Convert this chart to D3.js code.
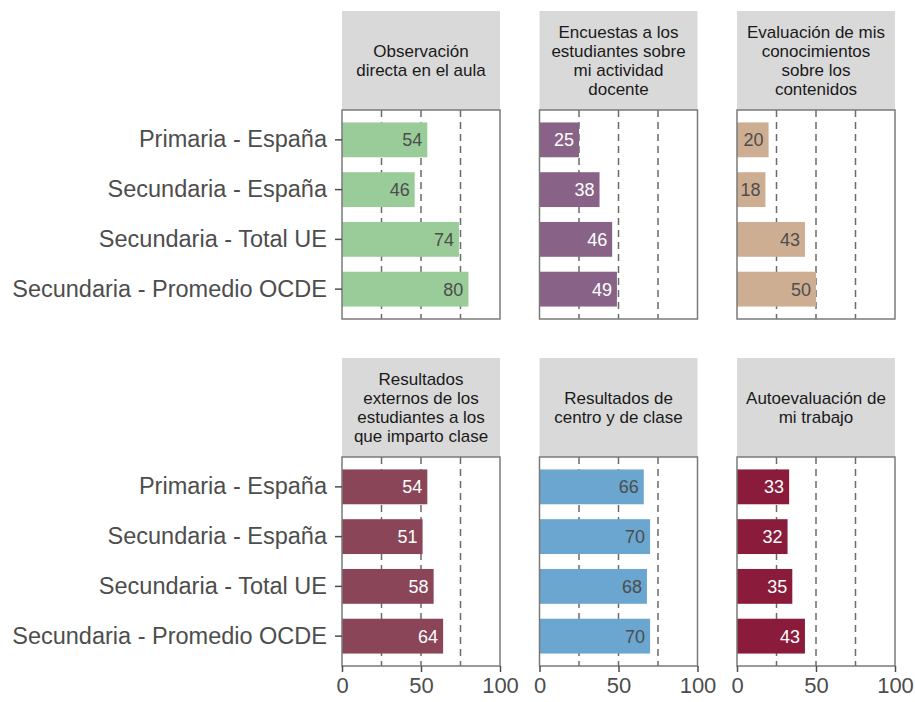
<!DOCTYPE html>
<html>
<head>
<meta charset="utf-8">
<script src="https://cdn.jsdelivr.net/npm/d3@7"></script>
<style>
  body { margin: 0; background: #fff; }
  svg text { font-family: "Liberation Sans", Arial, sans-serif; }
</style>
</head>
<body>
<div id="chart"></div>
<script>
const categories = ["Primaria - España", "Secundaria - España", "Secundaria - Total UE", "Secundaria - Promedio OCDE"];

const panelTitles = [
    ["Observación", "directa en el aula"],
    ["Encuestas a los", "estudiantes sobre", "mi actividad", "docente"],
    ["Evaluación de mis", "conocimientos", "sobre los", "contenidos"],
    ["Resultados", "externos de los", "estudiantes a los", "que imparto clase"],
    ["Resultados de", "centro y de clase"],
    ["Autoevaluación de", "mi trabajo"]
];

const observacion = [54, 46, 74, 80];
const encuestas = [25, 38, 46, 49];
const evaluacion = [20, 18, 43, 50];
const resultadosExternos = [54, 51, 58, 64];
const resultadosCentro = [66, 70, 68, 70];
const autoevaluacion = [33, 32, 35, 43];

const panelValues = [observacion, encuestas, evaluacion, resultadosExternos, resultadosCentro, autoevaluacion];
const panelColors = ["#99cc99", "#896387", "#cdae93", "#8a4559", "#6aa6cf", "#8a1b3a"];
const labelColors = ["#4d4d4d", "#ffffff", "#4d4d4d", "#ffffff", "#4d4d4d", "#ffffff"];

const xTicks = [0, 50, 100];
const gridLines = [25, 50, 75];

const width = 915;
const height = 702;

// layout of the facet grid
const colX = [342, 539.5, 737];
const panelW = 158;
const stripTop = [11, 358];
const stripH = 99;
const panelH = 209;

const svg = d3.select("#chart")
    .append("svg")
    .attr("width", width)
    .attr("height", height);

const x = d3.scaleLinear().domain([0, 100]).range([0, panelW]);
const y = d3.scaleBand()
    .domain(categories)
    .range([0, panelH])
    .paddingInner(0.3)
    .paddingOuter(0.25);

panelValues.forEach((values, p) => {
    const col = p % 3;
    const row = Math.floor(p / 3);
    const left = colX[col];
    const top = stripTop[row];

    // strip
    const strip = svg.append("g").attr("transform", `translate(${left},${top})`);
    strip.append("rect")
        .attr("width", panelW)
        .attr("height", stripH)
        .attr("fill", "#d9d9d9");
    const lines = panelTitles[p];
    const lh = 18.7;
    strip.append("text")
        .attr("text-anchor", "middle")
        .attr("font-size", "17px")
        .attr("fill", "#1a1a1a")
        .selectAll("tspan")
        .data(lines)
        .join("tspan")
        .attr("x", panelW / 2)
        .attr("y", (d, i) => stripH / 2 + (i - (lines.length - 1) / 2) * lh + 6)
        .text(d => d);

    const g = svg.append("g").attr("transform", `translate(${left},${top + stripH})`);

    g.append("rect")
        .attr("width", panelW)
        .attr("height", panelH)
        .attr("fill", "#fff");

    // dashed reference lines
    g.selectAll(".grid")
        .data(gridLines)
        .join("line")
        .attr("x1", d => x(d))
        .attr("x2", d => x(d))
        .attr("y1", 0)
        .attr("y2", panelH)
        .attr("stroke", "#6b6b6b")
        .attr("stroke-width", 1.5)
        .attr("stroke-dasharray", "7,5");

    // bars
    g.selectAll(".bar")
        .data(values)
        .join("rect")
        .attr("x", 0)
        .attr("y", (d, i) => y(categories[i]))
        .attr("width", d => x(d))
        .attr("height", y.bandwidth())
        .attr("fill", panelColors[p]);

    g.selectAll(".val")
        .data(values)
        .join("text")
        .attr("x", d => x(d) - 5)
        .attr("y", (d, i) => y(categories[i]) + y.bandwidth() / 2)
        .attr("dy", "0.36em")
        .attr("text-anchor", "end")
        .attr("font-size", "18px")
        .attr("fill", labelColors[p])
        .text(d => d);

    // panel border
    g.append("rect")
        .attr("width", panelW)
        .attr("height", panelH)
        .attr("fill", "none")
        .attr("stroke", "#7a7a7a")
        .attr("stroke-width", 1.5);

    // y axis on the first column
    if (col === 0) {
        const yAxis = g.append("g")
            .call(d3.axisLeft(y).tickSize(7).tickPadding(8));
        yAxis.select(".domain").remove();
        yAxis.selectAll(".tick line").attr("stroke", "#4d4d4d").attr("stroke-width", 1.5);
        yAxis.selectAll(".tick text")
            .attr("font-size", "23.5px")
            .attr("fill", "#4d4d4d")
            .attr("font-family", "'Liberation Sans', Arial, sans-serif");
    }

    // x axis on the bottom row
    if (row === 1) {
        const xAxis = g.append("g")
            .attr("transform", `translate(0,${panelH})`)
            .call(d3.axisBottom(x).tickValues(xTicks).tickSize(6).tickPadding(5));
        xAxis.select(".domain").remove();
        xAxis.selectAll(".tick line").attr("stroke", "#4d4d4d").attr("stroke-width", 1.5);
        xAxis.selectAll(".tick text")
            .attr("font-size", "22px")
            .attr("fill", "#4d4d4d")
            .attr("font-family", "'Liberation Sans', Arial, sans-serif");
    }
});
</script>
</body>
</html>
